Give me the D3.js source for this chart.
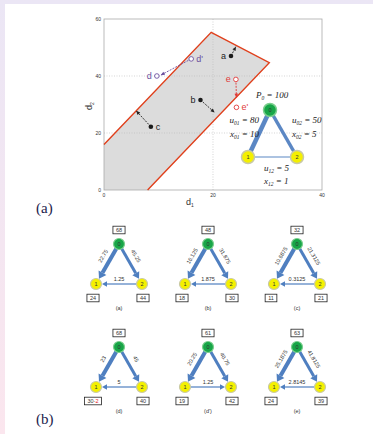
<!DOCTYPE html>
<meta charset="utf-8">
<style>
body { margin: 0; }
svg { display: block; }
.tick-lbl { font: 5px "Liberation Sans", Arial, sans-serif; fill: #333; }
.pt-lbl { font: 9px "Liberation Sans", Arial, sans-serif; }
.eq { font: italic 9px "Liberation Serif", "Times New Roman", serif; fill: #222; }
.small { font: 5.5px "Liberation Sans", Arial, sans-serif; fill: #333; }
.panel { font: 15px "Liberation Serif", "Times New Roman", serif; fill: #1c1c4c; }
</style>
<svg width="373" height="434"></svg>
<script src="https://d3js.org/d3.v7.min.js"></script>
<script>

// ---- data: feasible region (d1, d2) ----
var region = [[0, 0], [0, 16], [19.67, 55.33], [30.33, 44.67], [8, 0]];
var border = [[0, 16], [19.67, 55.33], [30.33, 44.67], [8, 0]];
var xTicks = [0, 20, 40],
    yTicks = [0, 20, 40, 60];

// demand points and where they get moved to
var ptNames = ["a", "b", "c"];
var ptFrom = [[23.3, 47], [17.7, 31.6], [8.6, 22.2]];
var ptTo = [[24.2, 50.3], [20.3, 27.2], [5.9, 27.8]];
var openNames = ["d", "d'", "e", "e'"];
var openPts = [[9.7, 40], [16, 46], [24.2, 38.8], [24.3, 29]];

// ---- data: the six solved networks ----
var subLabels = ["(a)", "(b)", "(c)", "(d)", "(d')", "(e)"];
var node0Vals = ["68", "48", "32", "68", "61", "63"];
var node1Vals = ["24", "18", "11", "30-2", "19", "24"];
var node2Vals = ["44", "30", "21", "40", "42", "39"];
var flow01 = ["22.75", "16.125", "10.6875", "23", "20.25", "25.1875"];
var flow02 = ["45.25", "31.875", "21.3125", "45", "40.75", "41.8125"];
var flow12 = ["1.25", "1.875", "0.3125", "5", "1.25", "2.8145"];
var dir12 = [-1, -1, -1, -1, 1, -1];   // 1 : flow goes 1 -> 2

var svg = d3.select("svg");
var edgeCol = "#4f7fc0";

// page background
var grad = svg.append("defs").append("linearGradient")
    .attr("id", "bg").attr("x1", 0).attr("y1", 0).attr("x2", 0).attr("y2", 1);
grad.append("stop").attr("offset", "0%").attr("stop-color", "#ebe6f5");
grad.append("stop").attr("offset", "100%").attr("stop-color", "#fbe6ee");
svg.append("rect").attr("width", 373).attr("height", 434).attr("fill", "url(#bg)");
svg.append("rect").attr("x", 5).attr("y", 4).attr("width", 368).attr("height", 430).attr("fill", "#fff");

// ---- top plot ----
var x = d3.scaleLinear().domain([0, 40]).range([104, 322]),
    y = d3.scaleLinear().domain([0, 60]).range([190, 19]);
var line = d3.line().x(function(d) { return x(d[0]); }).y(function(d) { return y(d[1]); });

var plot = svg.append("g");

plot.append("path").attr("d", line(region) + "Z").attr("fill", "#dcdcdc");

// grid
plot.selectAll(".gx").data([20]).enter().append("line")
    .attr("x1", x).attr("x2", x).attr("y1", y(0)).attr("y2", y(60))
    .attr("stroke", "#bbb").attr("stroke-width", 0.6).attr("stroke-dasharray", "1,1.5");
plot.selectAll(".gy").data([20, 40]).enter().append("line")
    .attr("y1", y).attr("y2", y).attr("x1", x(0)).attr("x2", x(40))
    .attr("stroke", "#bbb").attr("stroke-width", 0.6).attr("stroke-dasharray", "1,1.5");

plot.append("rect")
    .attr("x", x(0)).attr("y", y(60))
    .attr("width", x(40) - x(0)).attr("height", y(0) - y(60))
    .attr("fill", "none").attr("stroke", "#aaa").attr("stroke-width", 0.8);

plot.append("path").attr("d", line(border))
    .attr("fill", "none").attr("stroke", "#e0401c").attr("stroke-width", 1.4);

plot.selectAll(".xt").data(xTicks).enter().append("text")
    .attr("class", "tick-lbl").attr("x", x).attr("y", y(0) + 7)
    .attr("text-anchor", "middle").text(function(d) { return d; });
plot.selectAll(".yt").data(yTicks).enter().append("text")
    .attr("class", "tick-lbl").attr("x", x(0) - 3).attr("y", function(d) { return y(d) + 2; })
    .attr("text-anchor", "end").text(function(d) { return d; });

plot.append("text").attr("class", "pt-lbl").attr("x", 186).attr("y", 205).attr("font-size", 8)
    .attr("fill", "#333").html("d<tspan font-size='5' dy='2'>1</tspan>");
plot.append("text").attr("class", "pt-lbl").attr("font-size", 8).attr("fill", "#333")
    .attr("transform", "translate(92,110) rotate(-90)")
    .html("d<tspan font-size='5' dy='2'>2</tspan>");

function arrowHead(g, p, q, len, hw, col) {
  var dx = q[0] - p[0], dy = q[1] - p[1], L = Math.sqrt(dx * dx + dy * dy);
  var ux = dx / L, uy = dy / L;
  var bx = q[0] - ux * len, by = q[1] - uy * len;
  g.append("path")
      .attr("d", "M" + q[0] + "," + q[1] + "L" + (bx - uy * hw) + "," + (by + ux * hw) +
                 "L" + (bx + uy * hw) + "," + (by - ux * hw) + "Z")
      .attr("fill", col);
  return [bx, by];
}

function dashedArrow(from, to, col) {
  var p = [x(from[0]), y(from[1])], q = [x(to[0]), y(to[1])];
  plot.append("line").attr("x1", p[0]).attr("y1", p[1]).attr("x2", q[0]).attr("y2", q[1])
      .attr("stroke", col).attr("stroke-width", 0.9).attr("stroke-dasharray", "2,1.2");
  arrowHead(plot, p, q, 4, 1.8, col);
}

ptFrom.forEach(function(d, i) { dashedArrow(d, ptTo[i], "#222"); });
dashedArrow(openPts[1], [10.4, 40.3], "#6b4f9e");
dashedArrow(openPts[2], [24.3, 32.4], "#e03a3a");

plot.selectAll(".pt").data(ptFrom).enter().append("circle")
    .attr("cx", function(d) { return x(d[0]); }).attr("cy", function(d) { return y(d[1]); })
    .attr("r", 2.3).attr("fill", "#1a1a1a");
plot.selectAll(".op").data(openPts).enter().append("circle")
    .attr("cx", function(d) { return x(d[0]); }).attr("cy", function(d) { return y(d[1]); })
    .attr("r", 2.3).attr("fill", "#fff").attr("stroke-width", 0.9)
    .attr("stroke", function(d, i) { return i < 2 ? "#6b4f9e" : "#e03a3a"; });

var ptSide = [-1, -1, 1];
plot.selectAll(".pl").data(ptFrom).enter().append("text")
    .attr("class", "pt-lbl").attr("fill", "#222")
    .attr("x", function(d, i) { return x(d[0]) + ptSide[i] * 5; })
    .attr("y", function(d) { return y(d[1]) + 3; })
    .attr("text-anchor", function(d, i) { return ptSide[i] < 0 ? "end" : "start"; })
    .text(function(d, i) { return ptNames[i]; });
var opSide = [-1, 1, -1, 1];
plot.selectAll(".ol").data(openPts).enter().append("text")
    .attr("class", "pt-lbl")
    .attr("fill", function(d, i) { return i < 2 ? "#6b4f9e" : "#e03a3a"; })
    .attr("x", function(d, i) { return x(d[0]) + opSide[i] * 5; })
    .attr("y", function(d) { return y(d[1]) + 3; })
    .attr("text-anchor", function(d, i) { return opSide[i] < 0 ? "end" : "start"; })
    .text(function(d, i) { return openNames[i]; });

// ---- network inset in the plot ----
var inset = svg.append("g");
var iN = [[270, 110], [248, 157], [297, 157]];
[[0, 1, 4.5], [0, 2, 3.5], [1, 2, 1.1]].forEach(function(e) {
  inset.append("line")
      .attr("x1", iN[e[0]][0]).attr("y1", iN[e[0]][1])
      .attr("x2", iN[e[1]][0]).attr("y2", iN[e[1]][1])
      .attr("stroke", "#5b87c4").attr("stroke-width", e[2]);
});
iN.forEach(function(p, i) {
  inset.append("circle").attr("cx", p[0]).attr("cy", p[1]).attr("r", 6.5)
      .attr("fill", i === 0 ? "#18a648" : "#f4f000")
      .attr("stroke", i === 0 ? "#7ccf8e" : "#c9c9a6").attr("stroke-width", 1.5);
  inset.append("text").attr("class", "small").attr("x", p[0]).attr("y", p[1] + 2)
      .attr("text-anchor", "middle").attr("fill", "#333").text(i);
});
function eq(g, px, py, anchor, v, sub, val) {
  g.append("text").attr("class", "eq").attr("x", px).attr("y", py).attr("text-anchor", anchor)
      .html(v + "<tspan font-size='5.5' dy='1.5'>" + sub + "</tspan><tspan dy='-1.5'> = " + val + "</tspan>");
}
eq(inset, 256, 98, "start", "P", "0", "100");
eq(inset, 259, 123, "end", "u", "01", "80");
eq(inset, 259, 137, "end", "x", "01", "10");
eq(inset, 292, 123, "start", "u", "02", "50");
eq(inset, 292, 137, "start", "x", "02", "5");
eq(inset, 264, 171, "start", "u", "12", "5");
eq(inset, 264, 184, "start", "x", "12", "1");

// ---- panel labels ----
svg.append("text").attr("class", "panel").attr("x", 36).attr("y", 213).text("(a)");
svg.append("text").attr("class", "panel").attr("x", 36).attr("y", 424).text("(b)");

// ---- six small networks ----
var colX = d3.scalePoint().domain([0, 1, 2]).range([119, 297]),
    rowY = d3.scalePoint().domain([0, 1]).range([244, 347]);
var rel = [[0, 0], [-23, 40], [23, 40]], R = 5.5;

function box(g, cx, cy, txt) {
  var t = g.append("text").attr("class", "small").attr("x", cx).attr("y", cy + 2)
      .attr("text-anchor", "middle");
  var parts = txt.split("-");
  t.append("tspan").text(parts[0]);
  if (parts.length > 1) t.append("tspan").attr("fill", "#e02020").text("-" + parts[1]);
  var w = t.node().getComputedTextLength() + 6;
  g.insert("rect", "text").attr("x", cx - w / 2).attr("y", cy - 3.8)
      .attr("width", w).attr("height", 7.6)
      .attr("fill", "#fff").attr("stroke", "#222").attr("stroke-width", 0.8);
}

function flowArrow(g, a, b, w, len, hw) {
  var dx = b[0] - a[0], dy = b[1] - a[1], L = Math.sqrt(dx * dx + dy * dy);
  var ux = dx / L, uy = dy / L;
  var p = [a[0] + ux * R, a[1] + uy * R], q = [b[0] - ux * (R + 0.5), b[1] - uy * (R + 0.5)];
  var base = arrowHead(g, p, q, len, hw, edgeCol);
  g.insert("line", "path").attr("x1", p[0]).attr("y1", p[1]).attr("x2", base[0]).attr("y2", base[1])
      .attr("stroke", edgeCol).attr("stroke-width", w);
}

subLabels.forEach(function(lbl, i) {
  var g = svg.append("g")
      .attr("transform", "translate(" + colX(i % 3) + "," + rowY(Math.floor(i / 3)) + ")");
  flowArrow(g, rel[0], rel[1], 4, 7, 4.5);
  flowArrow(g, rel[0], rel[2], 3, 6.5, 4);
  if (dir12[i] > 0) flowArrow(g, rel[1], rel[2], 1.2, 5, 2.8);
  else flowArrow(g, rel[2], rel[1], 1.2, 5, 2.8);

  rel.forEach(function(p, k) {
    g.append("circle").attr("cx", p[0]).attr("cy", p[1]).attr("r", R)
        .attr("fill", k === 0 ? "#18a648" : "#f4f000")
        .attr("stroke", k === 0 ? "#7ccf8e" : "#c9c9a6").attr("stroke-width", 1.2);
    g.append("text").attr("class", "small").attr("x", p[0]).attr("y", p[1] + 2)
        .attr("text-anchor", "middle").attr("font-weight", "bold").text(k);
  });

  box(g, 0, -14, node0Vals[i]);
  box(g, -26, 54, node1Vals[i]);
  box(g, 24, 54, node2Vals[i]);

  g.append("text").attr("class", "small")
      .attr("transform", "translate(-16,12) rotate(-60)")
      .attr("text-anchor", "middle").attr("dy", 2).text(flow01[i]);
  g.append("text").attr("class", "small")
      .attr("transform", "translate(17,12) rotate(60)")
      .attr("text-anchor", "middle").attr("dy", 2).text(flow02[i]);
  g.append("text").attr("class", "small").attr("x", 0).attr("y", 37)
      .attr("text-anchor", "middle").text(flow12[i]);
  g.append("text").attr("class", "small").attr("x", 0).attr("y", 66)
      .attr("text-anchor", "middle").attr("font-size", 6).text(lbl);
});
</script>
